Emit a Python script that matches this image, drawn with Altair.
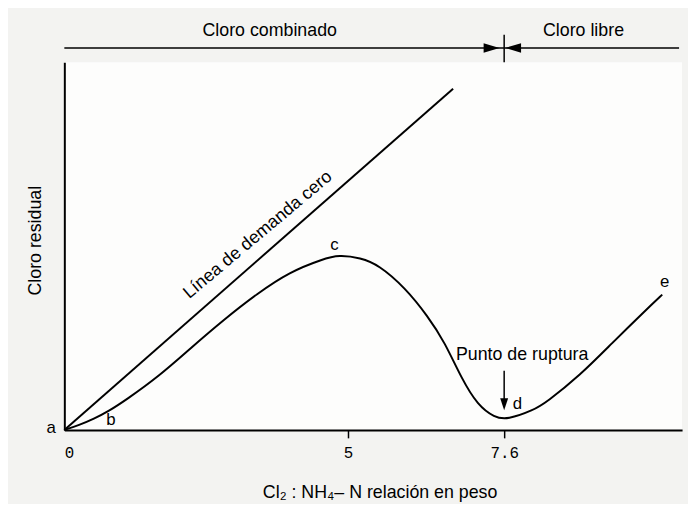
import altair as alt
import pandas as pd

# ---- data ----
ratio = [0, 0.26, 0.52, 0.78, 1.08, 1.66, 2.23, 2.82, 3.40, 3.97, 4.56, 4.84,
         5.21, 5.51, 5.95, 6.33, 6.61, 6.89, 7.16, 7.44, 7.65, 8.09, 8.30, 8.86,
         9.40, 9.95, 10.23]
residual = [0, 1.3, 3.0, 5.1, 8.1, 14.5, 22.3, 30.1, 37.1, 43.0, 46.5, 47.6,
            46.8, 44.9, 38.7, 30.9, 23.9, 14.0, 6.7, 3.4, 2.8, 5.4, 7.5, 14.8,
            23.7, 32.5, 36.8]
zero_ratio = [0, 6.75]
zero_residual = [0, 92.8]
x_ticks = [0, 5, 7.6]

point_labels = ["a", "b", "c", "d", "e"]
point_x = [-0.23, 0.82, 4.76, 7.82, 10.27]
point_y = [0.6, 2.7, 50.3, 7.0, 40.3]

zone_labels = ["Cloro combinado", "Cloro libre"]
zone_x = [3.62, 8.92]
zone_y = [108.6, 108.6]
zone_line_x = [0, 10.51]
zone_line_y = 103.9
zone_sep_x = 7.6
zone_sep_y = [100.0, 107.5]
arrow_right_x = 7.39
arrow_left_x = 7.75

break_x = 7.6
break_line_y = [7.6, 16.1]
break_head_y = 7.0
break_text = "Punto de ruptura"
break_text_x = 7.9
break_text_y = 20.4

zero_text = "Línea de demanda cero"
zero_text_x = 3.47
zero_text_y = 52.0

FONT = "Liberation Sans, Arial, DejaVu Sans"
MONO = "Liberation Mono, DejaVu Sans Mono"

x_scale = alt.Scale(domain=[0, 5, 7.6, 10.56], range=[0, 287, 445, 625],
                    nice=False, zero=False)
y_scale = alt.Scale(domain=[0, 100], nice=False, zero=False)

x_axis = alt.Axis(
    values=x_ticks, labelExpr="format(datum.value, '.1~f')",
    title="Cl₂ : NH₄– N relación en peso",
    grid=False, domainColor="black", domainWidth=2, tickColor="black",
    tickSize=8, tickWidth=1.5,
    tickOpacity={"condition": {"test": "datum.value == 0", "value": 0}, "value": 1},
    labelFont=MONO, labelFontSize=16, labelColor="black", labelPadding=7,
    titleFont=FONT, titleFontSize=18, titleFontWeight="normal", titleColor="black",
    titleX=319, titleY=63, titleBaseline="middle",
)
y_axis = alt.Axis(
    title="Cloro residual", ticks=False, labels=False, grid=False,
    domainColor="black", domainWidth=2,
    titleFont=FONT, titleFontSize=18, titleFontWeight="normal", titleColor="black",
    titlePadding=20, titleY=180,
)


def X(field="x"):
    return alt.X(f"{field}:Q", scale=x_scale, axis=x_axis)


def Y(field="y"):
    return alt.Y(f"{field}:Q", scale=y_scale, axis=y_axis)


curve = alt.Chart(pd.DataFrame({"x": ratio, "y": residual})).mark_line(
    color="black", strokeWidth=2, interpolate="basis"
).encode(x=X(), y=Y())

zero_line = alt.Chart(pd.DataFrame({"x": zero_ratio, "y": zero_residual})).mark_line(
    color="black", strokeWidth=2
).encode(x=X(), y=Y())

letters = alt.Chart(pd.DataFrame({"t": point_labels, "x": point_x, "y": point_y})).mark_text(
    font=FONT, fontSize=17, color="black", baseline="middle", align="center"
).encode(x=X(), y=Y(), text="t:N")

zones = alt.Chart(pd.DataFrame({"t": zone_labels, "x": zone_x, "y": zone_y})).mark_text(
    font=FONT, fontSize=18, color="black", baseline="middle", align="center"
).encode(x=X(), y=Y(), text="t:N")

zone_line = alt.Chart(pd.DataFrame({"x": [zone_line_x[0]], "x2": [zone_line_x[1]],
                                    "y": [zone_line_y]})).mark_rule(
    color="black", strokeWidth=1.5
).encode(x=X(), x2="x2:Q", y=Y())

zone_sep = alt.Chart(pd.DataFrame({"x": [zone_sep_x], "y": [zone_sep_y[0]],
                                   "y2": [zone_sep_y[1]]})).mark_rule(
    color="black", strokeWidth=1.5
).encode(x=X(), y=Y(), y2="y2:Q")

arrow_r = alt.Chart(pd.DataFrame({"x": [arrow_right_x], "y": [zone_line_y]})).mark_point(
    shape="M-1,-0.6L1,0L-1,0.6Z", filled=True, color="black", size=256, opacity=1
).encode(x=X(), y=Y())

arrow_l = alt.Chart(pd.DataFrame({"x": [arrow_left_x], "y": [zone_line_y]})).mark_point(
    shape="M1,-0.6L-1,0L1,0.6Z", filled=True, color="black", size=256, opacity=1
).encode(x=X(), y=Y())

break_line = alt.Chart(pd.DataFrame({"x": [break_x], "y": [break_line_y[0]],
                                     "y2": [break_line_y[1]]})).mark_rule(
    color="black", strokeWidth=1.5
).encode(x=X(), y=Y(), y2="y2:Q")

break_head = alt.Chart(pd.DataFrame({"x": [break_x], "y": [break_head_y]})).mark_point(
    shape="M-0.67,-1L0,1L0.67,-1Z", filled=True, color="black", size=144, opacity=1
).encode(x=X(), y=Y())

break_label = alt.Chart(pd.DataFrame({"t": [break_text], "x": [break_text_x],
                                      "y": [break_text_y]})).mark_text(
    font=FONT, fontSize=18, color="black", baseline="middle", align="center"
).encode(x=X(), y=Y(), text="t:N")

zero_label = alt.Chart(pd.DataFrame({"t": [zero_text], "x": [zero_text_x],
                                     "y": [zero_text_y]})).mark_text(
    font=FONT, fontSize=18, color="black", baseline="alphabetic", align="center",
    angle=320
).encode(x=X(), y=Y(), text="t:N")

chart = alt.layer(
    curve, zero_line, letters, zones, zone_line, zone_sep, arrow_r, arrow_l,
    break_line, break_head, break_label, zero_label
).properties(
    width=625, height=372, autosize="none",
    padding={"left": 57, "top": 52, "right": 6, "bottom": 72},
    background="#f3f3f1",
).configure_view(fill="#fdfdfc", stroke=None)

chart.save("out.html", embed_options={"renderer": "svg", "actions": False})
